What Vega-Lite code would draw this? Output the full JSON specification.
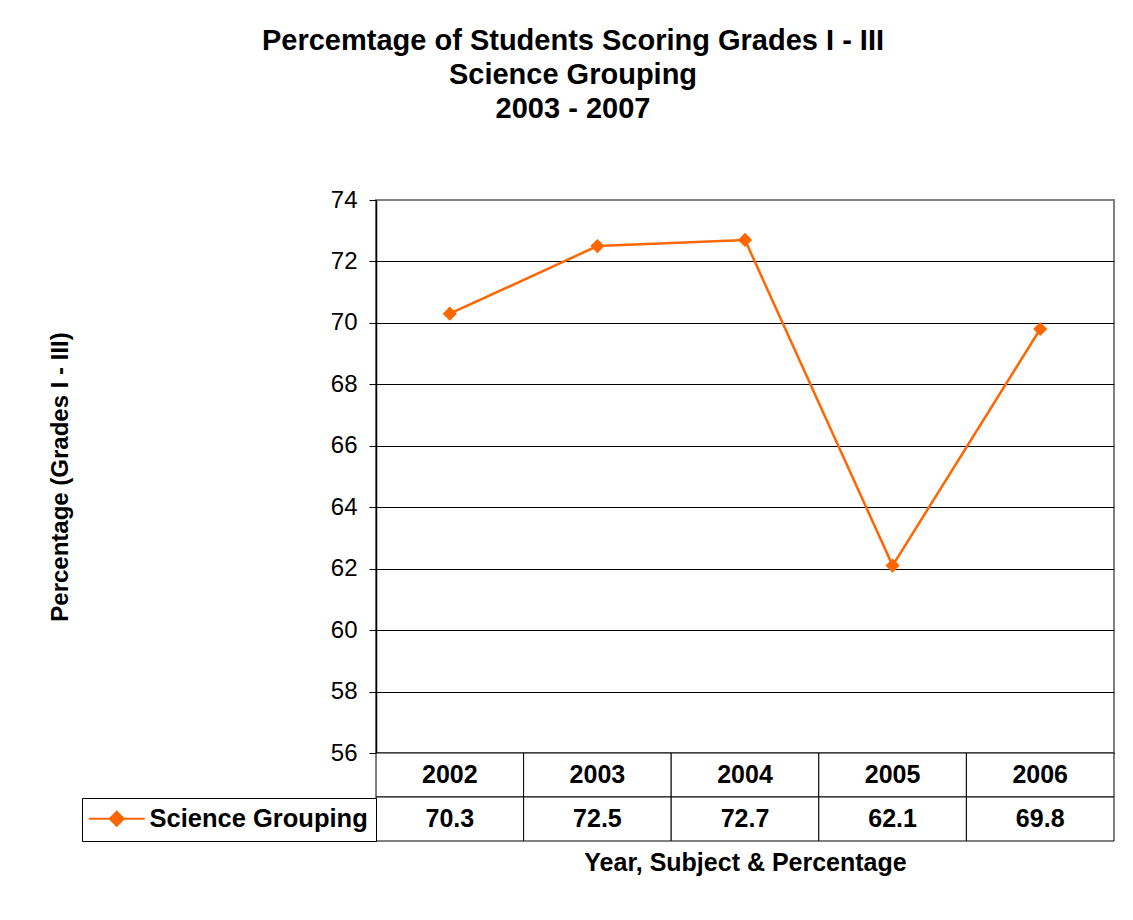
{
  "$schema": "https://vega.github.io/schema/vega-lite/v6.json",
  "padding": {"left": 47, "top": 27, "right": 19, "bottom": 40},
  "background": "white",
  "bounds": "flush",
  "spacing": 0,
  "title": {
    "text": ["Percemtage of Students Scoring Grades I - III", "Science Grouping", "2003 - 2007"],
    "font": "Liberation Sans",
    "fontSize": 29,
    "fontWeight": "bold",
    "lineHeight": 34,
    "color": "black",
    "anchor": "middle",
    "frame": "group",
    "dx": -172,
    "offset": 63
  },
  "config": {
    "font": "Liberation Sans",
    "view": {"stroke": null},
    "axis": {"labelFont": "Liberation Sans", "titleFont": "Liberation Sans", "labelColor": "black", "titleColor": "black"}
  },
  "datasets": {
    "grades": [
      {"year": "2002", "pct": 70.3, "series": "Science Grouping"},
      {"year": "2003", "pct": 72.5, "series": "Science Grouping"},
      {"year": "2004", "pct": 72.7, "series": "Science Grouping"},
      {"year": "2005", "pct": 62.1, "series": "Science Grouping"},
      {"year": "2006", "pct": 69.8, "series": "Science Grouping"}
    ]
  },
  "vconcat": [
    {
      "width": 738,
      "height": 553,
      "data": {"name": "grades"},
      "view": {"stroke": "#808080", "strokeWidth": 2},
      "encoding": {
        "x": {"field": "year", "type": "ordinal", "scale": {"type": "point", "padding": 0.5}, "axis": null},
        "y": {
          "field": "pct",
          "type": "quantitative",
          "scale": {"domain": [56, 74], "nice": false, "zero": false},
          "axis": {
            "values": [56, 58, 60, 62, 64, 66, 68, 70, 72, 74],
            "title": "Percentage (Grades I - III)",
            "titleFontSize": 24,
            "titleFontWeight": "bold",
            "titlePadding": 258,
            "labelFontSize": 24,
            "labelPadding": 12,
            "tickSize": 7,
            "tickColor": "black",
            "domainColor": "black",
            "domainWidth": 1.5,
            "grid": true,
            "gridColor": {"condition": {"test": "datum.value == 74", "value": "#808080"}, "value": "black"},
            "gridOpacity": 1,
            "gridWidth": 1
          }
        },
        "color": {
          "field": "series",
          "type": "nominal",
          "scale": {"range": ["#FF6600"]},
          "legend": {
            "title": null,
            "orient": "none",
            "legendX": -294,
            "legendY": 598,
            "symbolType": "M-4,0L4,0M0,-1L1,0L0,1L-1,0Z",
            "symbolSize": 196,
            "symbolStrokeWidth": 2,
            "symbolFillColor": "#FF6600",
            "symbolStrokeColor": "#FF6600",
            "symbolOffset": 14,
            "labelOffset": 20,
            "labelFont": "Liberation Sans",
            "labelFontSize": 25.5,
            "labelFontWeight": "bold",
            "labelColor": "black",
            "labelLimit": 0,
            "strokeColor": "black",
            "fillColor": "white",
            "padding": 8
          }
        }
      },
      "layer": [
        {"mark": {"type": "line", "strokeWidth": 2.5}},
        {"mark": {"type": "point", "shape": "diamond", "filled": true, "size": 200, "opacity": 1}}
      ]
    },
    {
      "width": 738,
      "height": 88,
      "data": {"name": "grades"},
      "encoding": {
        "x": {
          "field": "year",
          "type": "ordinal",
          "scale": {"type": "band", "paddingInner": 0, "paddingOuter": 0},
          "axis": {
            "title": "Year, Subject & Percentage",
            "titleFontSize": 25,
            "titleFontWeight": "bold",
            "titlePadding": 9,
            "labels": false,
            "ticks": false,
            "domain": false
          }
        }
      },
      "layer": [
        {
          "mark": {"type": "rect", "fill": "white", "stroke": "black", "strokeWidth": 1},
          "encoding": {"y": {"datum": "year", "type": "nominal", "scale": {"type": "band", "domain": ["year", "value"], "paddingInner": 0, "paddingOuter": 0}, "axis": null}}
        },
        {
          "mark": {"type": "rect", "fill": "white", "stroke": "black", "strokeWidth": 1},
          "encoding": {"y": {"datum": "value", "type": "nominal"}}
        },
        {
          "mark": {"type": "text", "font": "Liberation Sans", "fontSize": 25, "fontWeight": "bold", "color": "black"},
          "encoding": {"y": {"datum": "year", "type": "nominal"}, "text": {"field": "year"}}
        },
        {
          "mark": {"type": "text", "font": "Liberation Sans", "fontSize": 25, "fontWeight": "bold", "color": "black"},
          "encoding": {"y": {"datum": "value", "type": "nominal"}, "text": {"field": "pct", "format": ".1f"}}
        }
      ]
    }
  ]
}
